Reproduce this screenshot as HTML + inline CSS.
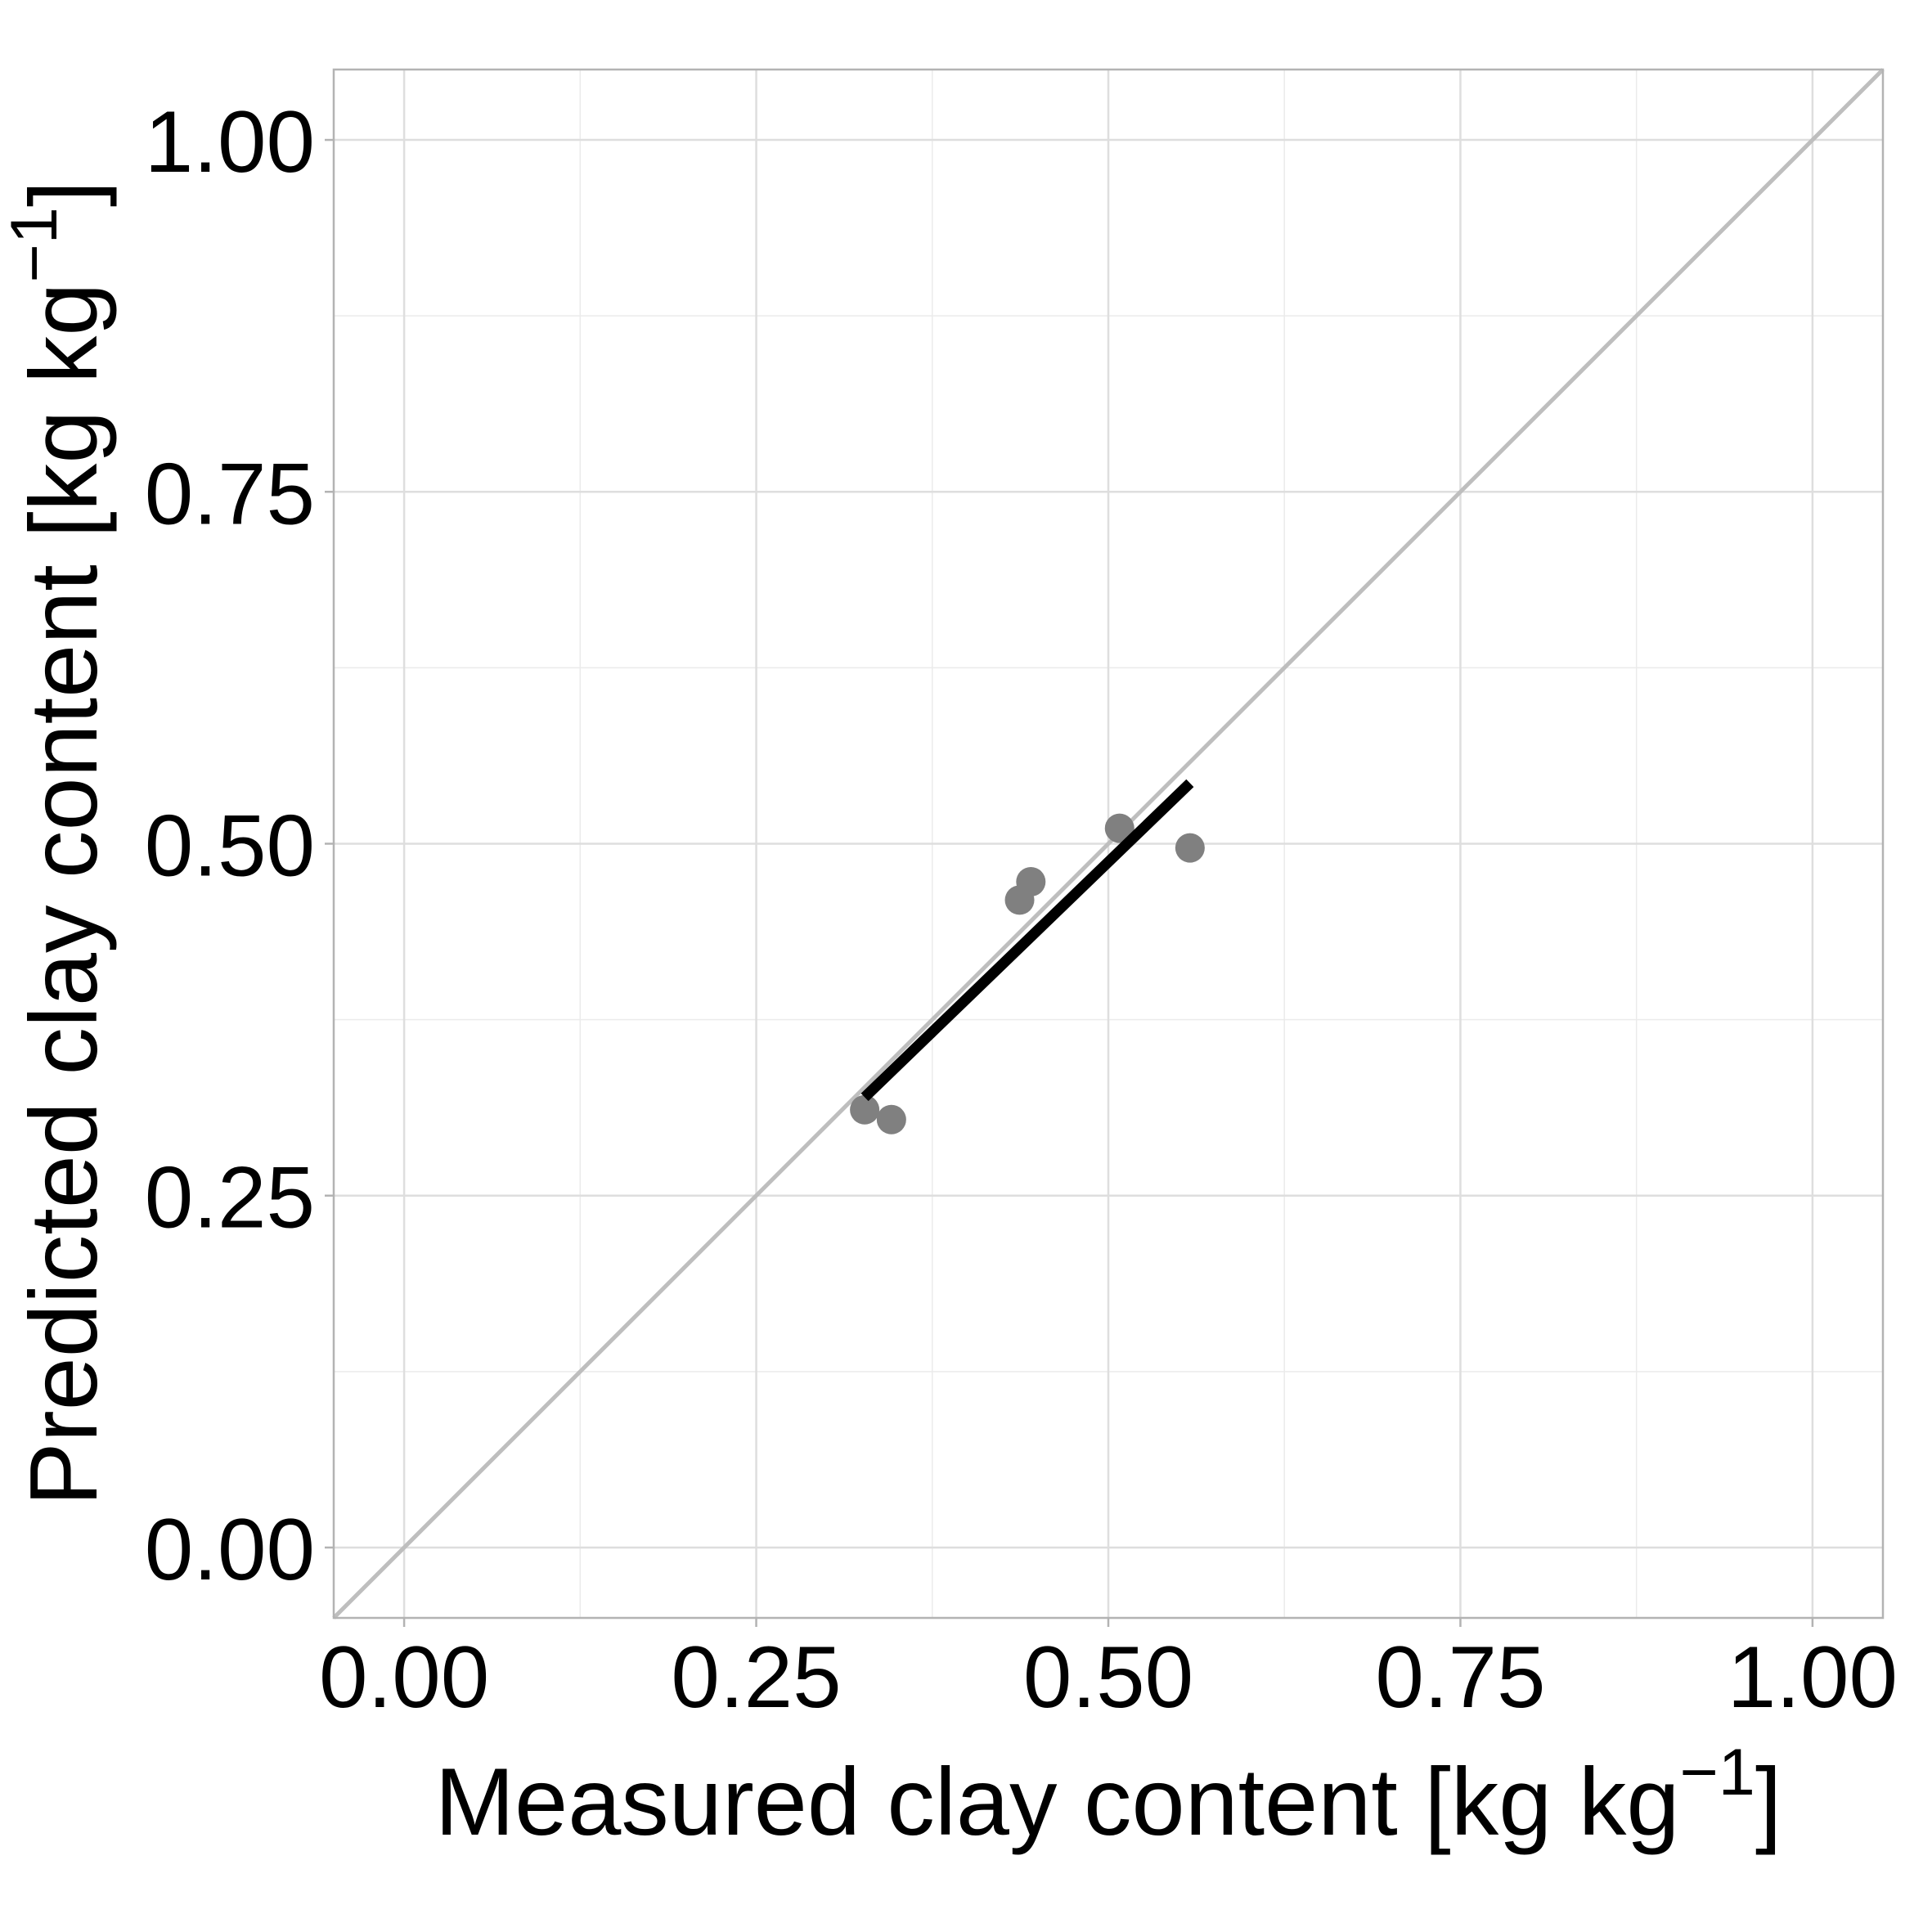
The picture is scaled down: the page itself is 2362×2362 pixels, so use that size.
<!DOCTYPE html>
<html><head><meta charset="utf-8"><style>
html,body{margin:0;padding:0;background:#fff}
svg{display:block}
text{font-family:"Liberation Sans",Arial,sans-serif;fill:#000}
</style></head><body>
<svg id="chart" width="2362" height="2362" viewBox="0 0 2362 2362" xmlns="http://www.w3.org/2000/svg">
<g id="grid"></g>
<g id="marks"></g>
<rect x="408" y="85" width="1894" height="1893" fill="none" stroke="#b3b3b3" stroke-width="2.5"/>
<g id="axes"></g>
<text x="1355" y="2243" font-size="117" text-anchor="middle">Measured clay content [kg kg<tspan dy="-49" font-size="81">−1</tspan><tspan dy="49">]</tspan></text>
<text transform="translate(118,1031) rotate(-90)" font-size="117" text-anchor="middle">Predicted clay content [kg kg<tspan dy="-49" font-size="81">−1</tspan><tspan dy="49">]</tspan></text>
</svg>
<script>
const measured = [0.327, 0.346, 0.437, 0.445, 0.508, 0.558];
const predicted = [0.311, 0.304, 0.460, 0.473, 0.511, 0.497];
const majorTicks = [0, 0.25, 0.5, 0.75, 1];
const minorTicks = [0.125, 0.375, 0.625, 0.875];
const tickLabels = ["0.00", "0.25", "0.50", "0.75", "1.00"];
const domain = [-0.05, 1.05];

const L=408, R=2302, T=85, B=1978;
const xs = v => L + (v-domain[0])/(domain[1]-domain[0])*(R-L);
const ys = v => B - (v-domain[0])/(domain[1]-domain[0])*(B-T);
const NS="http://www.w3.org/2000/svg";
function mk(tag, attrs, parent){const e=document.createElementNS(NS,tag);for(const k in attrs)e.setAttribute(k,attrs[k]);parent.appendChild(e);return e;}
const grid=document.getElementById('grid'), marks=document.getElementById('marks'), axes=document.getElementById('axes');

minorTicks.forEach(v=>{
  let a=mk('line',{x1:xs(v),x2:xs(v),y1:T,y2:B,stroke:'#ebebeb','stroke-width':1.5},grid);
  
  
  let b=mk('line',{x1:L,x2:R,y1:ys(v),y2:ys(v),stroke:'#ebebeb','stroke-width':1.5},grid);
  
  
});
majorTicks.forEach((v,i)=>{
  let a=mk('line',{x1:xs(v),x2:xs(v),y1:T,y2:B,stroke:'#dedede','stroke-width':2.5},grid);
  
  
  let b=mk('line',{x1:L,x2:R,y1:ys(v),y2:ys(v),stroke:'#dedede','stroke-width':2.5},grid);
  
  
  let tx=mk('line',{x1:xs(v),x2:xs(v),y1:B,y2:B+11,stroke:'#b3b3b3','stroke-width':2.5},axes);
  
  
  let ty=mk('line',{x1:L-11,x2:L,y1:ys(v),y2:ys(v),stroke:'#b3b3b3','stroke-width':2.5},axes);
  
  
  let lx=mk('text',{x:xs(v),y:2087,'font-size':107,'text-anchor':'middle'},axes);
  lx.textContent=tickLabels[i];
  
  
  let ly=mk('text',{x:385,y:ys(v)+39,'font-size':107,'text-anchor':'end'},axes);
  ly.textContent=tickLabels[i];
  
  
});

let d=mk('line',{x1:xs(domain[0]),y1:ys(domain[0]),x2:xs(domain[1]),y2:ys(domain[1]),stroke:'#bebebe','stroke-width':5},marks);



measured.forEach((m,i)=>{
  let c=mk('circle',{cx:xs(m),cy:ys(predicted[i]),r:18,fill:'#808080'},marks);
  
  
});

const n=measured.length;
const mx=measured.reduce((a,b)=>a+b,0)/n, my=predicted.reduce((a,b)=>a+b,0)/n;
let sxy=0,sxx=0;
for(let i=0;i<n;i++){sxy+=(measured[i]-mx)*(predicted[i]-my);sxx+=(measured[i]-mx)**2;}
const slope=sxy/sxx, icpt=my-slope*mx;
const x0=Math.min(...measured), x1=Math.max(...measured);
let rl=mk('line',{x1:xs(x0),y1:ys(icpt+slope*x0),x2:xs(x1),y2:ys(icpt+slope*x1),stroke:'#000','stroke-width':13},marks);


</script>
</body></html>
